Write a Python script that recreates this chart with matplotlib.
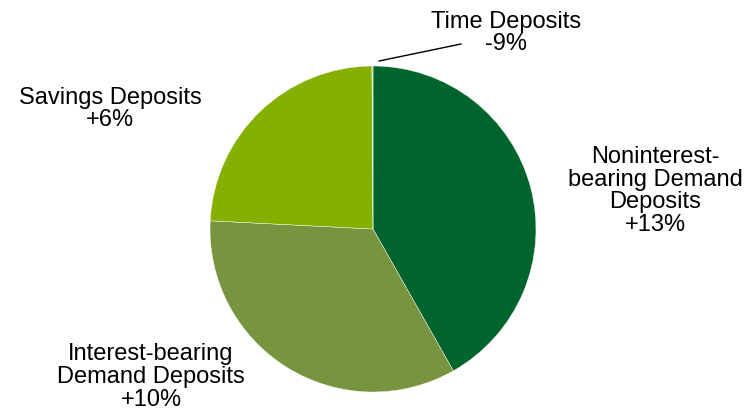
import matplotlib.pyplot as plt

plt.rcParams['font.family'] = ['Liberation Sans', 'DejaVu Sans']

# deposit mix, clockwise from 12 o'clock
categories = ['Noninterest-\nbearing Demand\nDeposits', 'Interest-bearing\nDemand Deposits',
              'Savings Deposits', 'Time Deposits']
shares = [41.8, 34.0, 24.1, 0.1]
growth = ['+13%', '+10%', '+6%', '-9%']
colors = ['#00642d', '#77943e', '#84b000', '#c8d88a']

W, H = 756, 414
fig = plt.figure(figsize=(W / 100, H / 100), dpi=100)
ax = fig.add_axes([0, 0, 1, 1])

# y axis runs downward, so angle -90 points up and counterclock draws clockwise
cx, cy, r = 373, 230, 163
ax.pie(shares, colors=colors, startangle=-90, counterclock=True,
       center=(cx, cy), radius=r, frame=True,
       wedgeprops=dict(edgecolor='white', linewidth=0.3))
ax.set_xlim(0, W)
ax.set_ylim(H, 0)
ax.set_aspect('equal')
ax.axis('off')

label_pos = [(655, 191), (151, 377), (110, 109), (506, 33)]
for name, g, (x, y) in zip(categories, growth, label_pos):
    ax.text(x, y, name + '\n' + g, ha='center', va='center', fontsize=17,
            linespacing=1.05, color='black')

# leader for the thin time-deposit slice
ax.plot([379, 461], [62, 45], color='black', linewidth=1)

fig.savefig('out.png', dpi=100)
